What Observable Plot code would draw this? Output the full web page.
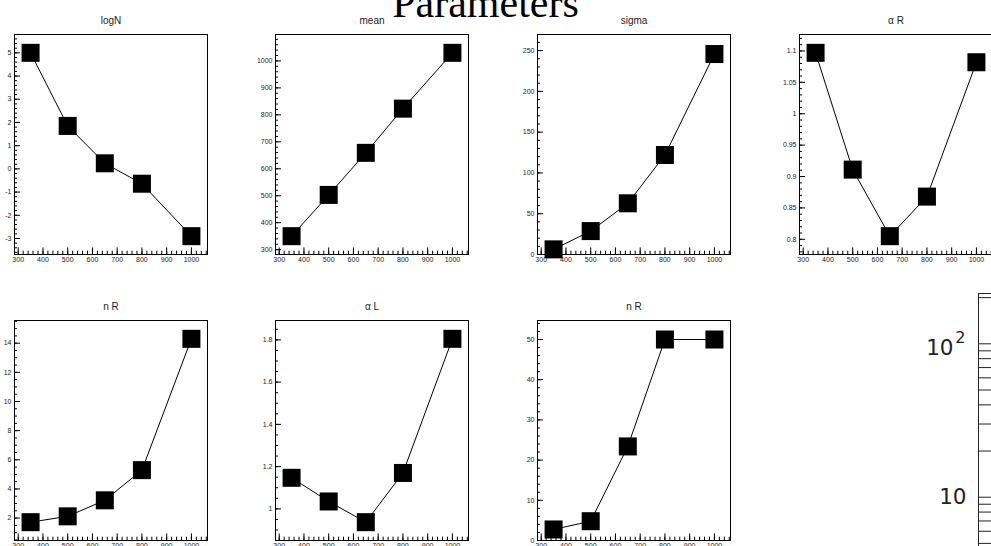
<!DOCTYPE html>
<html><head><meta charset="utf-8">
<script src="https://cdn.jsdelivr.net/npm/d3@7"></script>
<script src="https://cdn.jsdelivr.net/npm/@observablehq/plot@0.6"></script>
<style>
html,body{margin:0;padding:0;width:991px;height:546px;overflow:hidden;background:#fff;}
#root{position:relative;width:991px;height:546px;overflow:hidden;background:#fff;}
.panel{position:absolute;}
#title{position:absolute;left:0;width:971px;top:-18px;text-align:center;font-family:"Liberation Serif","Times New Roman",serif;font-size:42px;line-height:42px;color:#000;white-space:nowrap;}
</style></head><body><div id="root"><div id="title">Parameters</div></div>
<script>
// ---- data ----
const mass   = [350, 500, 650, 800, 1000];
const logN   = [5.0, 1.85, 0.24, -0.64, -2.9];
const mean   = [350, 503, 659, 823, 1030];
const sigma  = [6.3, 28.7, 62.8, 122, 245.8];
const alphaR = [1.097, 0.911, 0.805, 0.868, 1.082];
const nR     = [1.72, 2.12, 3.22, 5.29, 14.3];
const alphaL = [1.147, 1.035, 0.937, 1.170, 1.805];
const nR2    = [2.75, 4.8, 23.4, 50, 50];
const titles = ["logN", "mean", "sigma", "\u03B1 R", "n R", "\u03B1 L", "n R"];
const series = [logN, mean, sigma, alphaR, nR, alphaL, nR2];
const majorSteps = [1, 100, 50, 0.05, 2, 0.2, 10];
const minorSteps = [0.2, 20, 10, 0.01, 0.5, 0.05, 2];
const xMajorStep = 100, xMinorStep = 20;
const logMajor = [10, 100];
const logBase = ["10", "10"];
const logExp = ["", "2"];
const logMinor = [1,2,3,4,5,6,7,8,9,20,30,40,50,60,70,80,90,200];

// ---- layout ----
const FW = 193, FH = 220, ML = 40, MR = 16, MT = 34, MB = 22;
const lefts = [14, 275, 537, 799];
const tops = [34, 320];

function rootRange(v, clampZero) {
  const mn = d3.min(v), mx = d3.max(v), pad = 0.1 * (mx - mn);
  let lo = mn - pad;
  if (clampZero && lo < 0 && mn >= 0) lo = 0;
  return [lo, mx + pad];
}
function ticks([lo, hi], step) {
  const out = [];
  for (let k = Math.ceil(lo / step - 1e-9); k <= Math.floor(hi / step + 1e-9); k++) out.push(+(k * step).toFixed(8));
  return out;
}
const fmt = d => String(+(+d).toFixed(6));
const root = document.getElementById("root");

series.forEach((vals, i) => {
  const xd = rootRange(mass, false);
  const yd = rootRange(vals, true);
  const data = mass.map((m, j) => ({m, v: vals[j]}));
  const yMaj = ticks(yd, majorSteps[i]), yMin = ticks(yd, minorSteps[i]);
  const xMaj = ticks(xd, xMajorStep), xMin = ticks(xd, xMinorStep);
  const plot = Plot.plot({
    width: FW + ML + MR, height: FH + MT + MB,
    marginLeft: ML, marginRight: MR, marginTop: MT, marginBottom: MB,
    x: {domain: xd}, y: {domain: yd},
    style: {background: "transparent", maxWidth: "none", overflow: "visible", fontFamily: "'Liberation Sans', Arial, sans-serif"},
    marks: [
      Plot.frame({stroke: "black", strokeWidth: 1}),
      Plot.tickY(yMin, {y: d => d, insetRight: FW - 3, stroke: "black"}),
      Plot.tickY(yMaj, {y: d => d, insetRight: FW - 6, stroke: "black"}),
      Plot.tickX(xMin, {x: d => d, insetTop: FH - 3.3, stroke: "black"}),
      Plot.tickX(xMaj, {x: d => d, insetTop: FH - 6.6, stroke: "black"}),
      Plot.axisY({ticks: yMaj, tickSize: 0, tickPadding: 3, tickFormat: fmt, fontSize: 7, fill: "#222", label: null}),
      Plot.axisX({ticks: xMaj, tickSize: 0, tickPadding: 3, tickFormat: fmt, fontSize: 7, fill: "#222", label: null}),
      Plot.line(data, {x: "m", y: "v", stroke: "black", strokeWidth: 1}),
      Plot.dot(data, {x: "m", y: "v", symbol: "square", r: 10.16, fill: "black", stroke: "none"}),
      Plot.text([titles[i]], {text: d => d, frameAnchor: "top", dy: -17.5, fontSize: 10, fill: "#222"})
    ]
  });
  plot.classList.add("panel");
  const row = i < 4 ? 0 : 1, col = i % 4;
  plot.style.left = (lefts[col] - ML) + "px";
  plot.style.top = (tops[row] - MT) + "px";
  root.appendChild(plot);
});

// ---- 8th pad: log axis fragment ----
{
  const ML8 = 78, MT8 = 33, W8 = ML8 + 200, H8 = MT8 + 367;
  const labels = logMajor.map((v, k) => ({v, base: logBase[k], exp: logExp[k]}));
  const p8 = Plot.plot({
    width: W8, height: H8, marginLeft: ML8, marginRight: 0, marginTop: MT8, marginBottom: 0,
    x: {domain: [0, 1], axis: null},
    y: {type: "log", domain: [0.862, 212.8], axis: null},
    style: {background: "transparent", maxWidth: "none", overflow: "visible", fontFamily: "'DejaVu Sans', sans-serif"},
    marks: [
      Plot.frame({stroke: "#222", strokeWidth: 1}),
      Plot.tickY(logMinor, {y: d => d, insetRight: 180, stroke: "#222"}),
      Plot.tickY(logMajor, {y: d => d, insetRight: 180, stroke: "#222"}),
      Plot.text(labels.filter(d => !d.exp), {y: "v", text: "base", frameAnchor: "left", textAnchor: "end", dx: -12, fontSize: 21.5, fill: "#222"}),
      Plot.text(labels.filter(d => d.exp), {y: "v", text: "base", frameAnchor: "left", textAnchor: "end", dx: -25, dy: 4, fontSize: 21.5, fill: "#222"}),
      Plot.text(labels.filter(d => d.exp), {y: "v", text: "exp", frameAnchor: "left", textAnchor: "end", dx: -13, dy: -5.5, fontSize: 16, fill: "#222"})
    ]
  });
  p8.classList.add("panel");
  p8.style.left = (978 - ML8) + "px";
  p8.style.top = (293 - MT8) + "px";
  root.appendChild(p8);
}
</script></body></html>
